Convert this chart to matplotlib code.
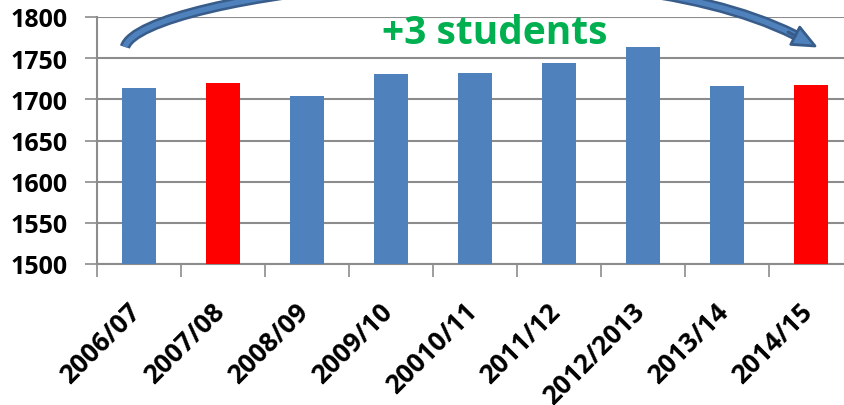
import matplotlib.pyplot as plt
import matplotlib.transforms as mtransforms
import numpy as np
from matplotlib.patches import FancyArrowPatch, PathPatch
from matplotlib.path import Path

# 数据
years = ['2006/07', '2007/08', '2008/09', '2009/10', '20010/11',
         '2011/12', '2012/2013', '2013/14', '2014/15']
students = [1714, 1720, 1704, 1731, 1732, 1744, 1764, 1716, 1717]
highlight = [False, True, False, False, False, False, False, False, True]
yticks = [1500, 1550, 1600, 1650, 1700, 1750, 1800]
note = '+3 students'

plt.rcParams['font.family'] = ['Open Sans', 'DejaVu Sans']

W, H = 844, 406
fig = plt.figure(figsize=(W / 100, H / 100), dpi=100)
ax = fig.add_axes([97 / W, 1 - 265 / H, 756 / W, 247 / H])

x = np.arange(len(years))
colors = ['#FF0000' if h else '#4F81BD' for h in highlight]
ax.bar(x, [s - 1500 for s in students], bottom=1500, width=0.4,
       color=colors, zorder=3)

ax.set_xlim(-0.5, len(years) - 0.5)
ax.set_ylim(1500, 1800)
ax.set_yticks(yticks)
ax.set_yticklabels([str(t) for t in yticks], fontsize=18, fontweight='bold')
ax.yaxis.grid(True, color='#8C8C8C', linewidth=1.5, zorder=0)
ax.set_axisbelow(True)

ax.set_xticks(x)
ax.set_xticklabels(years, rotation=45, ha='right', va='top',
                   rotation_mode='anchor', fontsize=19, fontweight='bold')
ax.tick_params(axis='x', length=0, pad=24)
shift = mtransforms.ScaledTranslation(-0.12, 0, fig.dpi_scale_trans)
for lab in ax.get_xticklabels():
    lab.set_transform(lab.get_transform() + shift)
ax.set_xticks(np.arange(len(years) + 1) - 0.5, minor=True)
ax.tick_params(axis='x', which='minor', length=9, width=1.2, color='#8C8C8C')
ax.tick_params(axis='y', length=9, width=1.2, color='#8C8C8C', pad=12)

for s in ['top', 'right']:
    ax.spines[s].set_visible(False)
ax.spines['left'].set_color('#8C8C8C')
ax.spines['left'].set_linewidth(1.5)
ax.spines['bottom'].set_color('#8C8C8C')
ax.spines['bottom'].set_linewidth(1.5)

# 弯箭头 (像素坐标, 左上角为原点)
def px(p):
    return (p[0] / W, 1 - p[1] / H)

body = [(125, 48), (140, -5), (595, -64), (795, 36)]
body_path = Path([px(p) for p in body],
                 [Path.MOVETO, Path.CURVE4, Path.CURVE4, Path.CURVE4])
fig.add_artist(PathPatch(body_path, transform=fig.transFigure, fill=False,
                         edgecolor='#385D8A', linewidth=7.5,
                         capstyle='butt', zorder=5))
fig.add_artist(PathPatch(body_path, transform=fig.transFigure, fill=False,
                         edgecolor='#4F81BD', linewidth=3.8,
                         capstyle='butt', zorder=6))
head = FancyArrowPatch(px((788, 33)), px((815, 47)),
                       transform=fig.transFigure,
                       arrowstyle='simple,head_length=16,head_width=14,tail_width=0.1',
                       mutation_scale=1, facecolor='#4F81BD',
                       edgecolor='#385D8A', linewidth=2, zorder=7,
                       shrinkA=0, shrinkB=0)
fig.add_artist(head)

fig.text(495 / W, 1 - 33 / H, note, color='#00B050', fontsize=28,
         fontweight='bold', ha='center', va='center')

fig.savefig('out.png', dpi=100)
